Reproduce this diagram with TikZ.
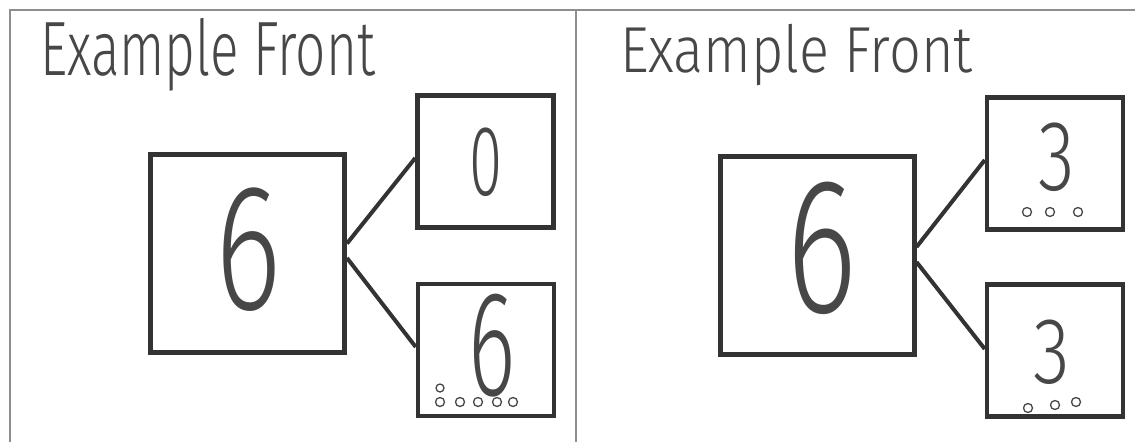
\documentclass[tikz,border=0pt]{standalone}
\usepackage{fontspec}
\newfontfamily\handfont{Fira Sans Light}
\usetikzlibrary{positioning}
\definecolor{ink}{HTML}{333333}
\definecolor{pencil}{HTML}{474747}
\definecolor{rule}{HTML}{8E8E8E}
\tikzset{
  bigbox/.style={draw=ink,line width=5pt,minimum width=194pt,minimum height=198pt,inner sep=0pt},
  smallbox/.style={draw=ink,line width=4.5pt,minimum width=136pt,minimum height=132pt,inner sep=0pt},
  branch/.style={ink,line width=4pt},
  frameline/.style={rule,line width=2.5pt},
  title/.style={font=\handfont\fontsize{77}{77}\selectfont,text=pencil,inner sep=0pt,anchor=base west},
  digit/.style={font=\handfont\fontsize{180}{180}\selectfont,text=pencil,inner sep=0pt},
  smalldigit/.style={font=\handfont\fontsize{100}{100}\selectfont,text=pencil,inner sep=0pt},
  counter/.style={pencil,line width=1.3pt}
}

\begin{document}
\begin{tikzpicture}[x=1pt,y=-1pt]
\useasboundingbox (0,0) rectangle (1135,442);
% page frame
\draw[frameline] (1135,10) -- (10,10) -- (10,442);
\draw[frameline] (576,10) -- (576,442);
% left card
\node[title] (t1) at (40,75) {\scalebox{0.69}[1]{Example Front}};
\node[bigbox] (whole1) at (247.5,253.5) {};
\node[smallbox] (parta1) at (485.5,161.5) {};
\node[smallbox] (partb1) at (486,350) {};
\node[digit] (n1) at (249,250) {\scalebox{0.7}[1]{6}};
\node[smalldigit] (na1) at (486,162) {\scalebox{0.6}[1]{0}};
\node[smalldigit,font=\handfont\fontsize{150}{150}\selectfont] (nb1) at (492,346) {\scalebox{0.6}[1]{6}};
\draw[branch] ([yshift=10pt]whole1.east) -- ([yshift=3.5pt]parta1.west);
\draw[branch] ([yshift=-4.5pt]whole1.east) -- ([yshift=3pt]partb1.west);
\foreach \x in {440,460,478,497,513}
  \draw[counter] (\x,402) circle (4.5);
\draw[counter] (440,388) circle (4);
% right card
\node[title,font=\handfont\fontsize{65}{65}\selectfont] (t2) at (620,72) {\scalebox{0.86}[1]{Example Front}};
\node[bigbox] (whole2) at (817,255.5) {};
\node[smallbox] (parta2) at (1055,163.5) {};
\node[smallbox] (partb2) at (1055,350.5) {};
\node[digit,font=\handfont\fontsize{193}{193}\selectfont] (n2) at (822,248) {\scalebox{0.7}[1]{6}};
\node[smalldigit] (na2) at (1057,157) {\scalebox{0.75}[1]{3}};
\node[smalldigit,font=\handfont\fontsize{94}{94}\selectfont] (nb2) at (1052,352) {\scalebox{0.8}[1]{3}};
\draw[branch] ([yshift=8.5pt]whole2.east) -- ([yshift=3.5pt]parta2.west);
\draw[branch] ([yshift=-6.5pt]whole2.east) -- ([yshift=1.5pt]partb2.west);
\foreach \x in {1027,1050,1078}
  \draw[counter] (\x,212) circle (4.5);
\draw[counter] (1028,408) circle (4.5);
\draw[counter] (1055,405) circle (4.5);
\draw[counter] (1076,402) circle (4.5);
\end{tikzpicture}
\end{document}
